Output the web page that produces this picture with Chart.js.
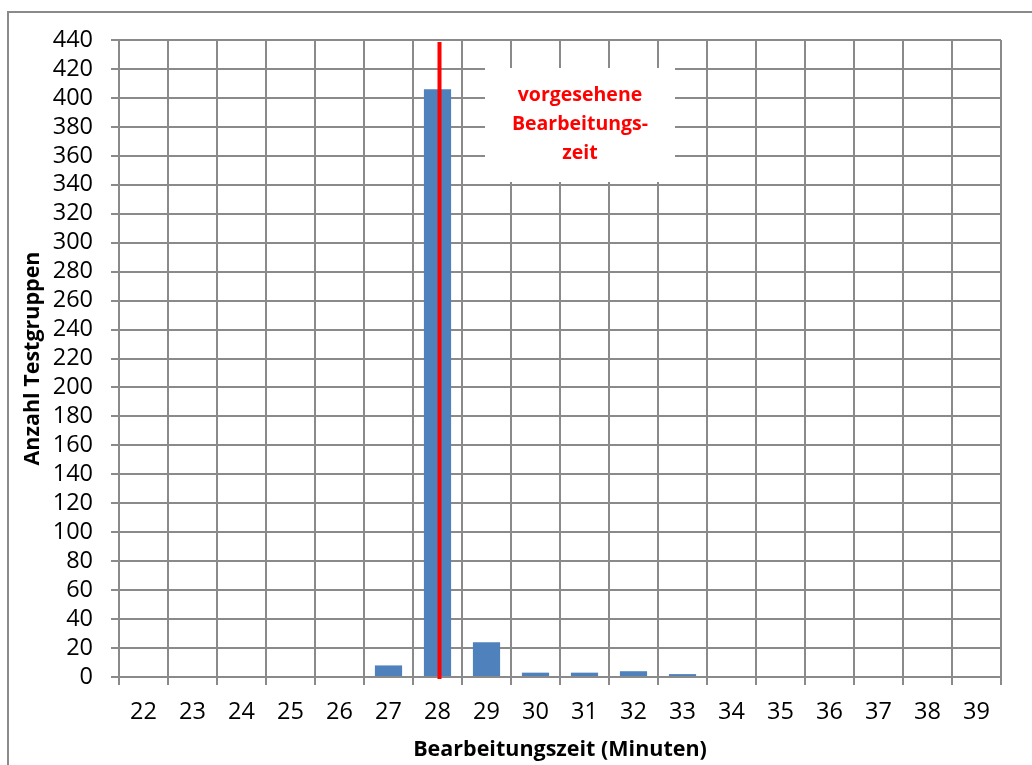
<!DOCTYPE html>
<html>
<head>
<meta charset="utf-8">
<style>
  html, body { margin: 0; padding: 0; background: #ffffff; }
  #wrap { width: 1032px; height: 765px; }
</style>
<script src="https://cdn.jsdelivr.net/npm/chart.js@4/dist/chart.umd.min.js"></script>
</head>
<body>
<div id="wrap"><canvas id="c" width="1032" height="765"></canvas></div>
<script>
// Bearbeitungszeit in Minuten (Kategorien)
const minutes = ['22','23','24','25','26','27','28','29','30','31','32','33','34','35','36','37','38','39'];
// Anzahl Testgruppen je Bearbeitungszeit
const groupCounts = [0, 0, 0, 0, 0, 8, 406, 24, 3, 3, 4, 2, 0, 0, 0, 0, 0, 0];
// vorgesehene Bearbeitungszeit
const plannedMinute = '28';
const plannedLabel = ['vorgesehene', 'Bearbeitungs-', 'zeit'];
// y-Achse
const yMin = 0, yMax = 440, yStep = 20;

const gridColor = '#8a8a8a';
const fontFamily = '"Open Sans", Lato, "Liberation Sans", sans-serif';

// Rahmen um das gesamte Diagramm
const frame = {
  id: 'frame',
  beforeDraw(chart) {
    const ctx = chart.ctx;
    ctx.save();
    ctx.fillStyle = '#ffffff';
    ctx.fillRect(0, 0, chart.width, chart.height);
    ctx.strokeStyle = gridColor;
    ctx.lineWidth = 2;
    ctx.strokeRect(8, 12, chart.width + 20, chart.height + 20);
    ctx.restore();
  }
};

// Textfeld und rote Markierung der vorgesehenen Zeit
const plannedMarker = {
  id: 'plannedMarker',
  afterDatasetsDraw(chart) {
    const ctx = chart.ctx;
    const area = chart.chartArea;
    const xs = chart.scales.x;
    ctx.save();

    // Textfeld
    const bx = area.left + 366, by = area.top + 28, bw = 190, bh = 114;
    ctx.fillStyle = '#ffffff';
    ctx.fillRect(bx, by, bw, bh);
    ctx.fillStyle = '#ff0000';
    ctx.font = 'bold 19.5px ' + fontFamily;
    ctx.textAlign = 'center';
    ctx.textBaseline = 'alphabetic';
    plannedLabel.forEach((line, i) => {
      ctx.fillText(line, bx + bw / 2, by + 33 + i * 29);
    });

    // rote Linie
    const x = xs.getPixelForValue(minutes.indexOf(plannedMinute)) + 2;
    ctx.strokeStyle = '#ff0000';
    ctx.lineWidth = 4;
    ctx.beginPath();
    ctx.moveTo(x, area.top + 2);
    ctx.lineTo(x, area.bottom + 2);
    ctx.stroke();
    ctx.restore();
  }
};

new Chart(document.getElementById('c'), {
  type: 'bar',
  data: {
    labels: minutes,
    datasets: [{
      data: groupCounts,
      backgroundColor: '#4f81bd',
      borderWidth: 0,
      categoryPercentage: 1.0,
      barPercentage: 0.555
    }]
  },
  options: {
    responsive: false,
    animation: false,
    devicePixelRatio: 1,
    layout: { padding: { left: 8, top: 40, right: 31, bottom: 0 } },
    plugins: {
      legend: { display: false },
      tooltip: { enabled: false }
    },
    scales: {
      x: {
        grid: { color: gridColor, lineWidth: 2, offset: true, tickLength: 8, drawTicks: true },
        border: { color: gridColor, width: 2 },
        ticks: { color: '#000000', font: { family: fontFamily, size: 23.5 }, padding: 13, maxRotation: 0, autoSkip: false },
        title: {
          display: true,
          text: 'Bearbeitungszeit (Minuten)',
          color: '#000000',
          font: { family: fontFamily, size: 21.5, weight: 'bold' },
          padding: { top: 0, bottom: 2 }
        },
        afterFit(scale) { scale.height = 88; }
      },
      y: {
        min: yMin,
        max: yMax,
        ticks: { stepSize: yStep, autoSkip: false, color: '#000000', font: { family: fontFamily, size: 23.5 }, padding: 18 },
        grid: { color: gridColor, lineWidth: 2, tickLength: 8 },
        border: { color: gridColor, width: 2 },
        title: {
          display: true,
          text: 'Anzahl Testgruppen',
          color: '#000000',
          font: { family: fontFamily, size: 21.5, weight: 'bold' },
          padding: { top: 12, bottom: 0 }
        },
        afterFit(scale) { scale.width = 111; }
      }
    }
  },
  plugins: [frame, plannedMarker]
});
</script>
</body>
</html>
